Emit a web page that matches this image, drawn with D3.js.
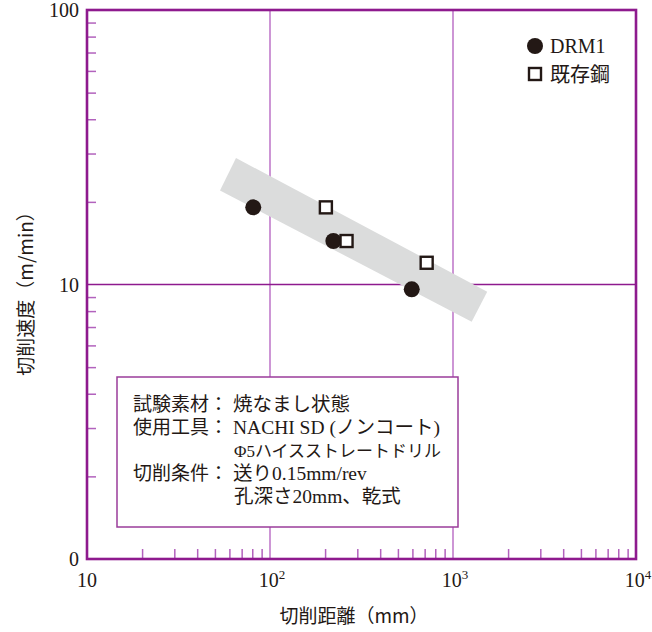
<!DOCTYPE html>
<html><head><meta charset="utf-8">
<script src="https://cdn.jsdelivr.net/npm/d3@7"></script>
<style>
body{margin:0;background:#fff}
svg{display:block}
text{font-family:"Liberation Serif","Noto Sans CJK JP",serif;fill:#231815}
.jp{font-family:"Noto Sans CJK JP",sans-serif}
</style></head><body>
<svg id="chart" width="652" height="632"></svg>
<script>
// Cutting distance (mm) vs cutting speed (m/min)
const drmDistance = [81, 222, 595];
const drmSpeed = [19.1, 14.4, 9.6];
const existingDistance = [202, 262, 718];
const existingSpeed = [19.1, 14.4, 12.0];
// trend band corners
const bandDistance = [65.2, 53.3, 1265, 1538];
const bandSpeed = [28.9, 22.0, 7.32, 9.41];

const xMajorTicks = [10, 100, 1000, 10000];
const xTickExponents = ["", "2", "3", "4"];
const yMajorTicks = [1, 10, 100];
const yTickLabels = ["0", "10", "100"];
const legendLabels = ["DRM1", "既存鋼"];
const infoLabels = ["試験素材：", "使用工具：", "切削条件："];
const infoValues = [["焼なまし状態"], ["NACHI SD (ノンコート)", "Φ5ハイスストレートドリル"], ["送り0.15mm/rev", "孔深さ20mm、乾式"]];

const PURPLE = "#8e1a8e", LIGHT = "#c17bcb", INK = "#231815";
const m = {left: 87, top: 10, right: 16, bottom: 73};
const W = 652 - m.left - m.right, H = 632 - m.top - m.bottom;

const svg = d3.select("#chart");
const g = svg.append("g").attr("transform", `translate(${m.left},${m.top})`);
const x = d3.scaleLog().domain([10, 10000]).range([0, W]);
const y = d3.scaleLog().domain([1, 100]).range([H, 0]);

// grid lines
g.selectAll(".vgrid").data([100, 1000]).join("line")
  .attr("x1", d => x(d)).attr("x2", d => x(d)).attr("y1", 0).attr("y2", H)
  .attr("stroke", LIGHT).attr("stroke-width", 1.6);
g.append("line").attr("x1", 0).attr("x2", W).attr("y1", y(10)).attr("y2", y(10))
  .attr("stroke", PURPLE).attr("stroke-width", 1.5);

// minor ticks (pointing inward)
const xMinor = x.ticks().filter(d => !xMajorTicks.includes(d));
const yMinor = y.ticks().filter(d => !yMajorTicks.includes(d));
const xAxis = g.append("g").attr("transform", `translate(0,${H})`)
  .call(d3.axisBottom(x).tickValues(xMinor).tickSize(-10).tickFormat(""));
const yAxis = g.append("g")
  .call(d3.axisLeft(y).tickValues(yMinor).tickSize(-9).tickFormat(""));
[xAxis, yAxis].forEach(a => {
  a.select(".domain").remove();
  a.selectAll(".tick line").attr("stroke", "#b262bd").attr("stroke-width", 1.5);
});

// band
const bandPts = bandDistance.map((d, i) => [x(d), y(bandSpeed[i])]);
const order = [0, 3, 2, 1];
g.append("polygon").attr("points", order.map(i => bandPts[i].join(",")).join(" "))
  .attr("fill", "#dbdcdc");

// frame
g.append("rect").attr("width", W).attr("height", H)
  .attr("fill", "none").attr("stroke", PURPLE).attr("stroke-width", 2.6);

// info box
const box = g.append("g").attr("transform", `translate(${117 - m.left},${377 - m.top})`);
box.append("rect").attr("width", 341).attr("height", 150)
  .attr("fill", "#fff").attr("stroke", "#9a3c9a").attr("stroke-width", 1.5);
let line = 0;
infoLabels.forEach((lab, i) => {
  box.append("text").attr("class", "jp").attr("x", 16).attr("y", 34 + line * 23)
    .attr("font-size", 19).text(lab);
  infoValues[i].forEach((v, j) => {
    // continuation line of the tool entry is set slightly smaller
    box.append("text").attr("x", 116 + (j ? 1 : 0)).attr("y", 34 + (line + j) * 23)
      .attr("font-size", j && i === 1 ? 17 : 19.5).text(v);
  });
  line += infoValues[i].length;
});

// data points
g.selectAll(".drm").data(drmDistance).join("circle")
  .attr("cx", d => x(d)).attr("cy", (d, i) => y(drmSpeed[i])).attr("r", 8)
  .attr("fill", INK);
const sq = 12;
g.selectAll(".exist").data(existingDistance).join("rect")
  .attr("x", d => x(d) - sq / 2).attr("y", (d, i) => y(existingSpeed[i]) - sq / 2)
  .attr("width", sq).attr("height", sq)
  .attr("fill", "#fff").attr("stroke", INK).attr("stroke-width", 2.4);

// legend
const lg = svg.append("g").attr("transform", "translate(535,46)");
lg.append("circle").attr("r", 8).attr("fill", INK);
lg.append("rect").attr("x", -sq / 2).attr("y", 28 - sq / 2).attr("width", sq).attr("height", sq)
  .attr("fill", "#fff").attr("stroke", INK).attr("stroke-width", 2.4);
lg.selectAll(".lt").data(legendLabels).join("text")
  .attr("x", 15).attr("y", (d, i) => 7 + i * 29).attr("font-size", 20).text(d => d);

// y tick labels
svg.selectAll(".ylab").data(yMajorTicks).join("text")
  .attr("x", 79).attr("y", d => m.top + y(d) + 7).attr("text-anchor", "end")
  .attr("font-size", 20).text((d, i) => yTickLabels[i]);

// x tick labels with exponents
xMajorTicks.forEach((d, i) => {
  const t = svg.append("text").attr("x", m.left + x(d) + (i ? 2 : 0)).attr("y", 587)
    .attr("text-anchor", "middle").attr("font-size", 20);
  t.append("tspan").text("10");
  if (xTickExponents[i]) t.append("tspan").attr("dy", -8).attr("font-size", 13).text(xTickExponents[i]);
});

// axis titles
svg.append("text").attr("class", "jp").attr("x", 354).attr("y", 623).attr("text-anchor", "middle")
  .attr("font-size", 19).text("切削距離（mm）");
svg.append("text").attr("class", "jp").attr("transform", "translate(33,289) rotate(-90)")
  .attr("text-anchor", "middle").attr("font-size", 19).text("切削速度（m/min）");
</script>
</body></html>
